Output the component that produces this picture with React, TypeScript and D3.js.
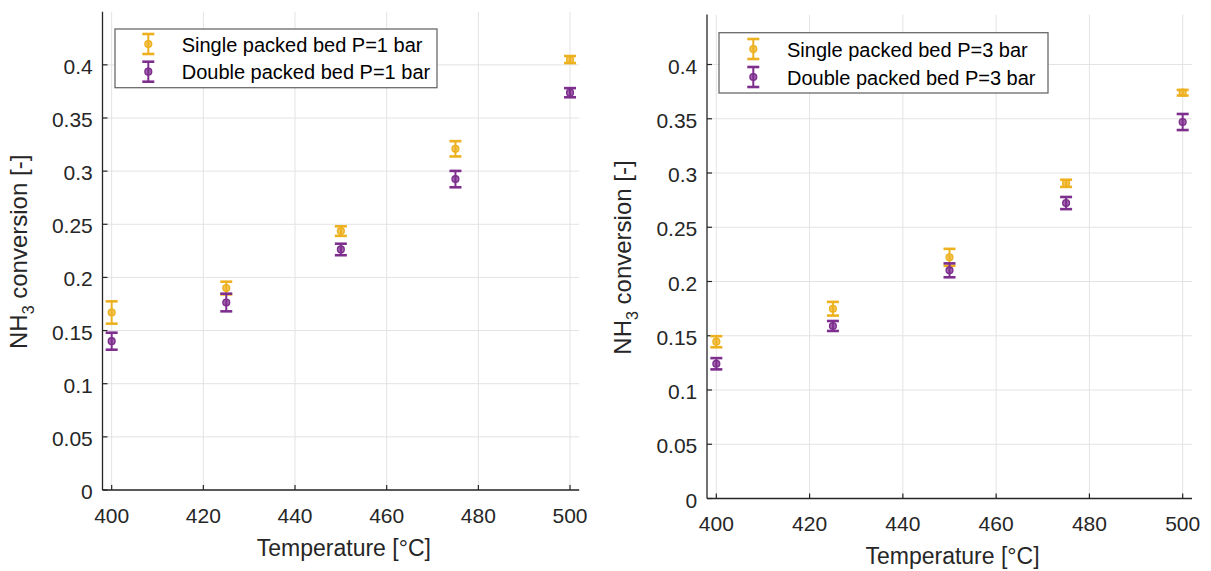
import React from "react";
import * as d3 from "d3";

const temps = [400, 425, 450, 475, 500];
const xTicks = [400, 420, 440, 460, 480, 500];
const yTicks = [0, 0.05, 0.1, 0.15, 0.2, 0.25, 0.3, 0.35, 0.4];
const yTickLabels = ["0", "0.05", "0.1", "0.15", "0.2", "0.25", "0.3", "0.35", "0.4"];

const single1 = [0.167, 0.190, 0.2436, 0.321, 0.405];
const single1Err = [0.0105, 0.006, 0.0045, 0.0072, 0.0033];
const double1 = [0.140, 0.1764, 0.2263, 0.2925, 0.3738];
const double1Err = [0.008, 0.0083, 0.0054, 0.0077, 0.0043];

const single3 = [0.1445, 0.1749, 0.2223, 0.2905, 0.374];
const single3Err = [0.0051, 0.0063, 0.0078, 0.0033, 0.0026];
const double3 = [0.1242, 0.159, 0.2103, 0.2723, 0.347];
const double3Err = [0.0052, 0.0046, 0.0064, 0.0056, 0.0074];

const labels1 = ["Single packed bed P=1 bar", "Double packed bed P=1 bar"];
const labels3 = ["Single packed bed P=3 bar", "Double packed bed P=3 bar"];

const YELLOW = "#EDB120";
const PURPLE = "#7E2F8E";
const AXIS = "#262626";
const GRID = "#e3e3e3";
const FONT = "'Liberation Sans', Arial, Helvetica, sans-serif";

type Series = { y: number[]; err: number[]; color: string };

type PanelProps = {
  xRange: [number, number];
  yRange: [number, number];
  yMax: number;
  series: Series[];
  labels: string[];
  legend: { x: number; y: number; w: number; h: number; symX: number; row1: number; row2: number; textX: number };
};

function ErrorMark({ cx, cy, top, bottom, color }: { cx: number; cy: number; top: number; bottom: number; color: string }) {
  const cw = 6;
  return (
    <g>
      <line x1={cx} x2={cx} y1={top} y2={bottom} stroke={color} strokeWidth={2} />
      <line x1={cx - cw} x2={cx + cw} y1={top} y2={top} stroke={color} strokeWidth={2.6} />
      <line x1={cx - cw} x2={cx + cw} y1={bottom} y2={bottom} stroke={color} strokeWidth={2.6} />
      <circle cx={cx} cy={cy} r={3.4} fill={color} fillOpacity={0.75} stroke={color} strokeWidth={1.4} />
    </g>
  );
}

function Panel({ xRange, yRange, yMax, series, labels, legend }: PanelProps) {
  const x = d3.scaleLinear().domain([398, 502]).range(xRange);
  const y = d3.scaleLinear().domain([0, yMax]).range(yRange);
  const [x0, x1] = xRange;
  const [yb, yt] = yRange;
  const cx = (x0 + x1) / 2;
  const cy = (yb + yt) / 2;
  return (
    <g fontFamily={FONT}>
      {/* grid */}
      {xTicks.map((t) => (
        <line key={"gx" + t} x1={x(t)} x2={x(t)} y1={yb} y2={yt} stroke={GRID} strokeWidth={1} />
      ))}
      {yTicks.map((t) => (
        <line key={"gy" + t} x1={x0} x2={x1} y1={y(t)} y2={y(t)} stroke={GRID} strokeWidth={1} />
      ))}
      {/* axes */}
      <line x1={x0} x2={x0} y1={yb} y2={yt} stroke={AXIS} strokeWidth={1.3} />
      <line x1={x0} x2={x1} y1={yb} y2={yb} stroke={AXIS} strokeWidth={1.3} />
      {yTicks.map((t, i) => (
        <g key={"ty" + t}>
          <line x1={x0} x2={x0 + 5} y1={y(t)} y2={y(t)} stroke={AXIS} strokeWidth={1.2} />
          <text x={x0 - 9.7} y={y(t) + 9} textAnchor="end" fontSize={21} fill={AXIS}>
            {yTickLabels[i]}
          </text>
        </g>
      ))}
      {xTicks.map((t) => (
        <g key={"tx" + t}>
          <line x1={x(t)} x2={x(t)} y1={yb} y2={yb - 5} stroke={AXIS} strokeWidth={1.2} />
          <text x={x(t)} y={yb + 32.7} textAnchor="middle" fontSize={21} fill={AXIS}>
            {t}
          </text>
        </g>
      ))}
      <text x={cx + 3} y={yb + 65.7} textAnchor="middle" fontSize={23} fill={AXIS}>
        Temperature [°C]
      </text>
      <text
        transform={`translate(${x0 - 75.6},${cy + 1}) rotate(-90)`}
        textAnchor="middle"
        fontSize={24}
        fill={AXIS}
      >
        NH
        <tspan dy={7} fontSize={16}>3</tspan>
        <tspan dy={-7}> conversion [-]</tspan>
      </text>
      {/* data */}
      {series.map((s, si) => (
        <g key={"s" + si}>
          {temps.map((t, i) => (
            <ErrorMark
              key={i}
              cx={x(t)}
              cy={y(s.y[i])}
              top={y(s.y[i] + s.err[i])}
              bottom={y(s.y[i] - s.err[i])}
              color={s.color}
            />
          ))}
        </g>
      ))}
      {/* legend */}
      <rect x={legend.x} y={legend.y} width={legend.w} height={legend.h} fill="#fff" stroke="#6a6a6a" strokeWidth={1.3} />
      {[legend.row1, legend.row2].map((ry, i) => (
        <g key={"lg" + i}>
          <ErrorMark cx={legend.symX} cy={ry} top={ry - 10} bottom={ry + 10} color={series[i].color} />
          <text x={legend.textX} y={ry + 7.5} fontSize={20} fill="#000">
            {labels[i]}
          </text>
        </g>
      ))}
    </g>
  );
}

export default function App() {
  return (
    <svg
      width={1211}
      height={571}
      style={{ position: "absolute", left: 0, top: 0, background: "#fff" }}
    >
      <rect width={1211} height={571} fill="#fff" />
      <Panel
        xRange={[102.5, 579.2]}
        yRange={[490, 11.7]}
        yMax={0.45}
        series={[
          { y: single1, err: single1Err, color: YELLOW },
          { y: double1, err: double1Err, color: PURPLE },
        ]}
        labels={labels1}
        legend={{ x: 115, y: 29, w: 322, h: 58.7, symX: 148.3, row1: 44, row2: 71.7, textX: 181.7 }}
      />
      <Panel
        xRange={[707, 1192]}
        yRange={[498.5, 14.6]}
        yMax={0.446}
        series={[
          { y: single3, err: single3Err, color: YELLOW },
          { y: double3, err: double3Err, color: PURPLE },
        ]}
        labels={labels3}
        legend={{ x: 719, y: 32.7, w: 329, h: 60.3, symX: 753.3, row1: 49, row2: 77, textX: 787 }}
      />
    </svg>
  );
}
